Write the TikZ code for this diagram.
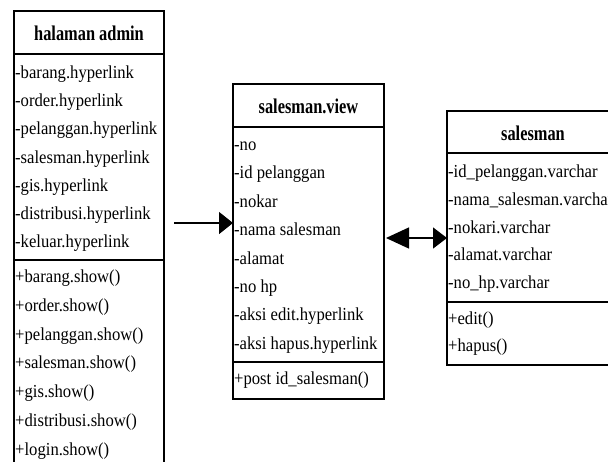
\documentclass[tikz,border=0pt]{standalone}
\usepackage{fontspec}
\setmainfont{Liberation Serif}
\newfontfamily\rowfont[FakeStretch=0.91]{Liberation Serif}
\newfontfamily\titlefont[FakeStretch=0.78]{Liberation Serif}
\usetikzlibrary{arrows.meta}
\begin{document}
\begin{tikzpicture}[x=1pt,y=-1pt,
  box/.style={draw=black,line width=1.4pt},
  rule/.style={draw=black,line width=1.8pt},
  title/.style={font=\titlefont\fontsize{21}{23}\selectfont\bfseries,inner sep=0pt},
  row/.style={font=\rowfont\fontsize{18.3}{20}\selectfont,anchor=west,inner sep=1pt,
    text height=12.8pt,text depth=4pt},
  link/.style={line width=1.3pt}]
\clip (0,0) rectangle (608,461);

% ---- halaman admin ----
\draw[box] (14,475) -- (14,11) -- (164,11) -- (164,475);
\draw[rule] (14,54) -- (164,54);
\draw[rule] (14,260) -- (164,260);
\node[title] (adminT) at (89,33) {halaman admin};
\foreach \t [count=\i from 0] in {-barang.hyperlink,-order.hyperlink,-pelanggan.hyperlink,
  -salesman.hyperlink,-gis.hyperlink,-distribusi.hyperlink,-keluar.hyperlink}
  \node[row] (adminA\i) at (14,74+28.2*\i) {\t};
\foreach \t [count=\i from 0] in {+barang.show(),+order.show(),+pelanggan.show(),
  +salesman.show(),+gis.show(),+distribusi.show(),+login.show()}
  \node[row] (adminM\i) at (14,278+28.8*\i) {\t};

% ---- salesman.view ----
\draw[box] (233,84) rectangle (384,399);
\draw[rule] (233,127) -- (384,127);
\draw[rule] (233,362) -- (384,362);
\node[title] (viewT) at (308.5,106) {salesman.view};
\foreach \t [count=\i from 0] in {-no,-id pelanggan,-nokar,-nama salesman,-alamat,-no hp,
  -aksi edit.hyperlink,-aksi hapus.hyperlink}
  \node[row] (viewA\i) at (233,146+28.4*\i) {\t};
\node[row] (viewM0) at (233,380) {+post id\_salesman()};

% ---- salesman ----
\draw[box] (620,111) -- (447,111) -- (447,365) -- (620,365);
\draw[rule] (447,153) -- (620,153);
\draw[rule] (447,302) -- (620,302);
\node[title] (salesT) at (533,133) {salesman};
\foreach \t [count=\i from 0] in {-id\_pelanggan.varchar,-nama\_salesman.varchar,
  -nokari.varchar,-alamat.varchar,-no\_hp.varchar}
  \node[row] (salesA\i) at (447,173+27.8*\i) {\t};
\node[row] (salesM0) at (447,320) {+edit()};
\node[row] (salesM1) at (447,347) {+hapus()};

% ---- connectors ----
\coordinate (src) at (174,223);
\coordinate (viewIn) at (233,223);
\coordinate (viewOut) at (386,238);
\coordinate (salesIn) at (447,238);
\draw[link,-{Triangle[length=14pt,width=22pt]}] (src) -- (viewIn);
\draw[link,{Triangle[length=23pt,width=21pt]}-{Triangle[length=14pt,width=21pt]}] (viewOut) -- (salesIn);
\end{tikzpicture}
\end{document}
